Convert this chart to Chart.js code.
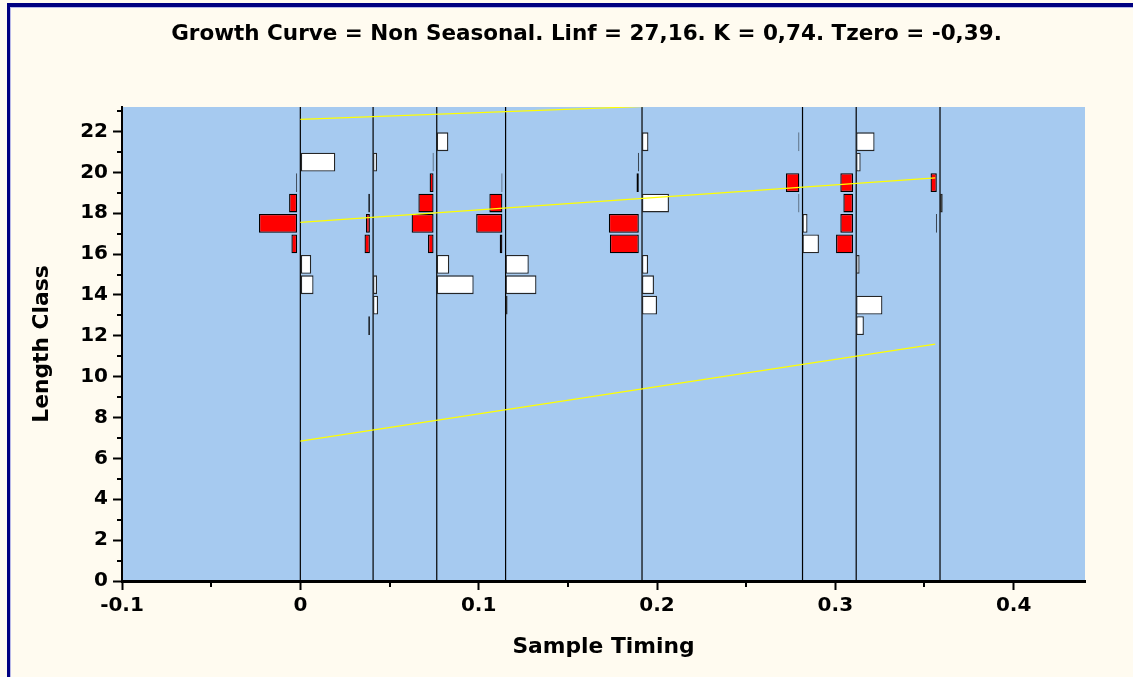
<!DOCTYPE html>
<html><head><meta charset="utf-8">
<script src="https://cdn.jsdelivr.net/npm/chart.js@4/dist/chart.umd.min.js"></script>
<style>
html,body{margin:0;padding:0;background:#FFFBF0;}
#wrap{position:relative;width:1133px;height:677px;overflow:hidden;background:#FFFBF0;}
canvas{position:absolute;left:0;top:0;}
.fr{position:absolute;background:#000080;}
.fl{position:absolute;background:#B8B8E8;}
</style></head><body>
<div id="wrap"><canvas id="c" width="1133" height="677"></canvas>
<div class="fr" style="left:7px;top:3px;width:1126px;height:4px"></div>
<div class="fr" style="left:7px;top:3px;width:3px;height:674px"></div>
<div class="fl" style="left:10px;top:7px;width:1123px;height:1px"></div>
<div class="fl" style="left:10px;top:7px;width:1px;height:670px"></div>
</div>
<script>
const chartTitle = 'Growth Curve = Non Seasonal. Linf = 27,16. K = 0,74. Tzero = -0,39.';
const xTitle = 'Sample Timing';
const yTitle = 'Length Class';

// sample timings (fraction of a year)
const sampleTimes = [0, 0.0408, 0.0765, 0.1151, 0.1916, 0.2816, 0.3117, 0.3587];
// length class midpoints
const lengthClasses = [12.5, 13.5, 14.5, 15.5, 16.5, 17.5, 18.5, 19.5, 20.5, 21.5];

// restructured scores per sample (positive = white peak, negative = red trough), x 0.001
const scoresS1 = [null, null, 7.4, 6.1, -3.2, -21.4, -4.5, -0.5, 19.6, null];
const scoresS2 = [-0.9, 2.8, 2.2, null, -3.0, -2.2, -0.9, null, 2.2, null];
const scoresS3 = [null, null, 20.7, 7.0, -3.1, -12.3, -8.5, -2.2, -0.5, 6.5];
const scoresS4 = [null, 1.1, 17.3, 13.0, -1.5, -14.7, -7.3, -0.5, null, null];
const scoresS5 = [null, 8.4, 6.7, 3.4, -16.2, -16.8, 15.1, -1.3, -0.5, 3.6];
const scoresS6 = [null, null, null, null, 9.2, 2.8, -0.5, -7.5, null, -0.5];
const scoresS7 = [4.3, 14.7, null, 1.9, -9.5, -7.1, -5.4, -7.1, 2.5, 10.3];
const scoresS8 = [null, null, null, null, null, -0.5, 1.5, -3.5, null, null];
const allScores = [scoresS1, scoresS2, scoresS3, scoresS4, scoresS5, scoresS6, scoresS7, scoresS8];

// growth curves (time, length)
const curve1T = [0, 0.356], curve1L = [6.85, 11.59];
const curve2T = [0, 0.356], curve2L = [17.55, 19.73];
const curve3T = [0, 0.356], curve3L = [22.59, 23.77];

// axes
const xTicks = [-0.1, 0, 0.1, 0.2, 0.3, 0.4];
const xMinor = [-0.05, 0.05, 0.15, 0.25, 0.35];
const yTicks = [0, 2, 4, 6, 8, 10, 12, 14, 16, 18, 20, 22];
const yMinor = [1, 3, 5, 7, 9, 11, 13, 15, 17, 19, 21, 23];
const xMin = -0.1, xMax = 0.44, yMin = 0, yMax = 23.2;

const SCORE_UNIT = 0.001;   // score -> time units
const NEG_GAP = 0.0018;     // troughs drawn just left of the sample line
const FONT = "'DejaVu Sans', Verdana, sans-serif";

const datasets = [];
// growth curves (on top)
[[curve1T, curve1L], [curve2T, curve2L], [curve3T, curve3L]].forEach(([T, L]) => {
  datasets.push({
    type: 'line', indexAxis: 'x', order: 0,
    data: T.map((t, i) => ({x: t, y: L[i]})),
    borderColor: '#FFFF00', borderWidth: 1.2, pointRadius: 0, fill: false
  });
});
// score bars
sampleTimes.forEach((t, si) => {
  const data = [];
  allScores[si].forEach((v, i) => {
    if (v === null) return;
    const d = v * SCORE_UNIT;
    data.push({y: lengthClasses[i], x: v > 0 ? [t, t + d] : [t - NEG_GAP + d, t - NEG_GAP], s: v});
  });
  datasets.push({
    type: 'bar', order: 1, data,
    backgroundColor: ctx => (ctx.raw && ctx.raw.s > 0) ? '#FFFFFF' : '#FF0000',
    borderColor: ctx => (ctx.raw && ctx.raw.s > 0) ? '#262626' : '#000000',
    borderWidth: 1.3, borderSkipped: false,
    grouped: false, categoryPercentage: 1, barPercentage: 0.92
  });
});
// sample lines
sampleTimes.forEach(t => {
  datasets.push({
    type: 'line', indexAxis: 'y', order: 2,
    data: [{x: t, y: yMin}, {x: t, y: yMax}],
    borderColor: '#000000', borderWidth: 1.2, pointRadius: 0, fill: false
  });
});

const plotBg = {
  id: 'plotBg',
  beforeDraw(chart) {
    const {ctx, chartArea: a} = chart;
    ctx.save();
    ctx.fillStyle = '#A6CAF0';
    ctx.fillRect(a.left, a.top, a.right - a.left, a.bottom - a.top);
    ctx.restore();
  }
};
const minorTicks = {
  id: 'minorTicks',
  afterDraw(chart) {
    const {ctx, scales: {x, y}, chartArea: a} = chart;
    ctx.save();
    ctx.strokeStyle = '#000';
    ctx.lineWidth = 2;
    yMinor.forEach(v => {
      const p = Math.round(y.getPixelForValue(v));
      ctx.beginPath(); ctx.moveTo(a.left - 5, p); ctx.lineTo(a.left, p); ctx.stroke();
    });
    xMinor.forEach(v => {
      const p = Math.round(x.getPixelForValue(v));
      ctx.beginPath(); ctx.moveTo(p, a.bottom); ctx.lineTo(p, a.bottom + 6); ctx.stroke();
    });
    ctx.restore();
  }
};
// centre the title over the framed panel (inside the left frame)
const titleShift = {
  id: 'titleShift',
  afterLayout(chart) {
    const tb = chart.titleBlock;
    if (tb) { tb.left = 40; tb.right = chart.width; tb.width = tb.right - tb.left; }
  }
};

const tickFont = {family: FONT, size: 20, weight: 'bold'};
const titleFont = {family: FONT, size: 21.5, weight: 'bold'};
const axisTitleFont = {family: FONT, size: 21.8, weight: 'bold'};

new Chart(document.getElementById('c'), {
  type: 'bar',
  data: {datasets},
  options: {
    responsive: false, animation: false, devicePixelRatio: 1,
    indexAxis: 'y',
    layout: {padding: {left: 0, right: 48, top: 0, bottom: 0}},
    plugins: {
      legend: {display: false},
      tooltip: {enabled: false},
      title: {display: true, text: chartTitle, color: '#000', font: titleFont, padding: {top: 22, bottom: 59.2}}
    },
    scales: {
      x: {
        type: 'linear', position: 'bottom', min: xMin, max: xMax, offset: false,
        afterFit(s) { s.height = 96; },
        afterBuildTicks(s) { s.ticks = xTicks.map(v => ({value: v})); },
        grid: {display: true, drawOnChartArea: false, drawTicks: true, tickLength: 9, tickWidth: 2, tickColor: '#000', offset: false},
        border: {display: true, color: '#000', width: 3},
        ticks: {color: '#000', font: tickFont, padding: 4, maxRotation: 0, autoSkip: false,
                callback: v => String(Math.round(v * 100) / 100)},
        title: {display: true, text: xTitle, color: '#000', font: axisTitleFont, padding: {top: 0, bottom: 17}}
      },
      y: {
        type: 'linear', position: 'left', min: yMin, max: yMax, offset: false,
        afterFit(s) { s.width = 122; },
        afterBuildTicks(s) { s.ticks = yTicks.map(v => ({value: v})); },
        grid: {display: true, drawOnChartArea: false, drawTicks: true, tickLength: 9, tickWidth: 2, tickColor: '#000', offset: false},
        border: {display: true, color: '#000', width: 2},
        ticks: {color: '#000', font: tickFont, padding: 5, autoSkip: false},
        title: {display: true, text: yTitle, color: '#000', font: axisTitleFont, padding: {top: 29, bottom: 0}}
      }
    }
  },
  plugins: [plotBg, minorTicks, titleShift]
});
</script>
</body></html>
